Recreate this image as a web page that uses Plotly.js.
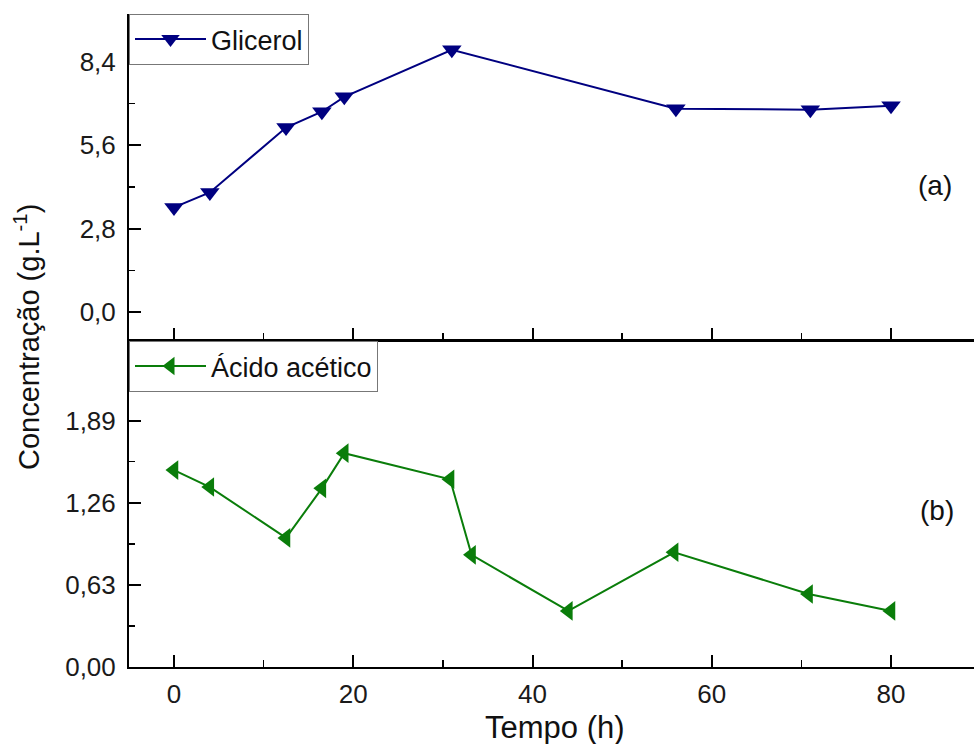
<!DOCTYPE html>
<html>
<head>
<meta charset="utf-8">
<script src="https://cdn.plot.ly/plotly-3.0.1.min.js"></script>
<style>html,body{margin:0;padding:0;background:#fff;}#chart{width:974px;height:744px;}</style>
</head>
<body>
<div id="chart"></div>
<script>
// Data
const glicerolTime = [0, 4, 12.5, 16.5, 19, 31, 56, 71, 80];
const glicerolConc = [3.51, 4.01, 6.19, 6.72, 7.22, 8.80, 6.82, 6.79, 6.92];
const acidoTime = [0, 4, 12.5, 16.5, 19, 30.8, 33.2, 44, 55.8, 70.8, 80];
const acidoConc = [1.51, 1.38, 0.99, 1.37, 1.64, 1.44, 0.86, 0.43, 0.88, 0.56, 0.43];
const glicerolTicks = [0, 2.8, 5.6, 8.4];
const acidoTicks = [0, 0.63, 1.26, 1.89];
const timeTicks = [0, 20, 40, 60, 80];

const FONT = 'Liberation Sans, Arial, sans-serif';

const traces = [
  {
    x: glicerolTime, y: glicerolConc, name: 'Glicerol',
    type: 'scatter', mode: 'lines+markers',
    xaxis: 'x2', yaxis: 'y2', legend: 'legend',
    line: {color: '#000080', width: 2},
    marker: {symbol: 'triangle-down', size: 17, color: '#000080'}
  },
  {
    x: acidoTime, y: acidoConc, name: 'Ácido acético',
    type: 'scatter', mode: 'lines+markers',
    xaxis: 'x', yaxis: 'y', legend: 'legend2',
    line: {color: '#0A7D0A', width: 2},
    marker: {symbol: 'triangle-left', size: 17, color: '#0A7D0A'}
  }
];

const tickFont = {family: FONT, size: 26, color: '#1a1a1a'};

const xCommon = {
  range: [-5.02, 89.26],
  tickvals: timeTicks,
  ticks: 'inside', ticklen: 12, tickwidth: 2, tickcolor: '#000',
  minor: {dtick: 10, tick0: 0, ticks: 'inside', ticklen: 7, tickwidth: 1.5, tickcolor: '#000'},
  showline: true, linecolor: '#000', linewidth: 2,
  showgrid: false, zeroline: false,
  tickfont: tickFont
};

const layout = {
  width: 974, height: 744,
  margin: {l: 129, r: 0, t: 14, b: 77},
  paper_bgcolor: '#fff', plot_bgcolor: '#fff',
  separators: ',.',
  font: {family: FONT, color: '#111'},
  showlegend: true,
  xaxis: Object.assign({}, xCommon, {anchor: 'y', mirror: true, ticklabelstandoff: 3}),
  xaxis2: Object.assign({}, xCommon, {anchor: 'y2', showticklabels: false, matches: 'x'}),
  yaxis: {
    domain: [0, 0.4992], range: [0, 2.5], anchor: 'x',
    tickvals: acidoTicks, tickformat: '.2f',
    ticks: 'inside', ticklen: 12, tickwidth: 2, tickcolor: '#000',
    minor: {dtick: 0.315, tick0: 0, ticks: 'inside', ticklen: 6, tickwidth: 1.5, tickcolor: '#000'},
    showline: true, linecolor: '#000', linewidth: 2,
    showgrid: false, zeroline: false,
    ticklabelstandoff: 6,
    tickfont: tickFont
  },
  yaxis2: {
    domain: [0.5008, 1], range: [-0.94, 10], anchor: 'x2',
    tickvals: glicerolTicks, tickformat: '.1f',
    ticks: 'inside', ticklen: 12, tickwidth: 2, tickcolor: '#000',
    minor: {dtick: 1.4, tick0: 0, ticks: 'inside', ticklen: 6, tickwidth: 1.5, tickcolor: '#000'},
    showline: true, linecolor: '#000', linewidth: 2,
    showgrid: false, zeroline: false,
    ticklabelstandoff: 6,
    tickfont: tickFont
  },
  legend: {
    x: 0, y: 1, xanchor: 'left', yanchor: 'top',
    bgcolor: '#fff', bordercolor: '#777', borderwidth: 1,
    font: {family: FONT, size: 27, color: '#111'},
    itemwidth: 71, tracegroupgap: 0
  },
  legend2: {
    x: 0, y: 0.4992, xanchor: 'left', yanchor: 'top',
    bgcolor: '#fff', bordercolor: '#777', borderwidth: 1,
    font: {family: FONT, size: 27, color: '#111'},
    itemwidth: 71, tracegroupgap: 0
  },
  annotations: [
    {text: 'Concentração (g.L<sup>-1</sup>)', xref: 'paper', yref: 'paper',
     x: -0.121, y: 0.505, xanchor: 'center', yanchor: 'middle', textangle: -90,
     showarrow: false, font: {family: FONT, size: 29, color: '#111'}},
    {text: 'Tempo (h)', xref: 'paper', yref: 'paper',
     x: 0.504, y: -0.093, xanchor: 'center', yanchor: 'middle',
     showarrow: false, font: {family: FONT, size: 31, color: '#111'}},
    {text: '(a)', xref: 'paper', yref: 'paper', x: 0.954, y: 0.738,
     xanchor: 'center', yanchor: 'middle', showarrow: false,
     font: {family: FONT, size: 28, color: '#111'}},
    {text: '(b)', xref: 'paper', yref: 'paper', x: 0.956, y: 0.240,
     xanchor: 'center', yanchor: 'middle', showarrow: false,
     font: {family: FONT, size: 28, color: '#111'}}
  ]
};

Plotly.newPlot('chart', traces, layout, {displayModeBar: false, staticPlot: true});
</script>
</body>
</html>
